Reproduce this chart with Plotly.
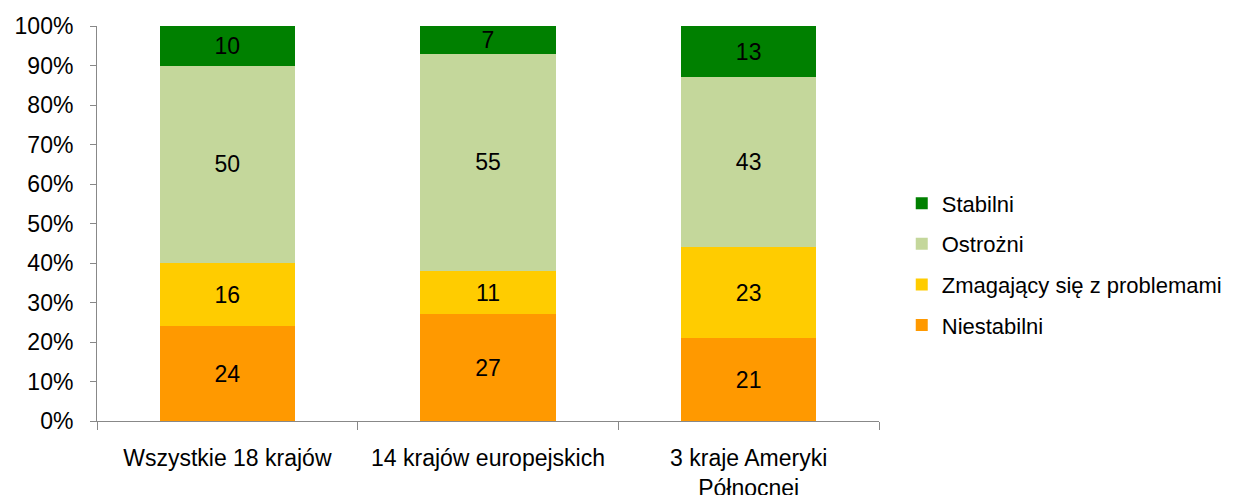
import plotly.graph_objects as go

categories = ["Wszystkie 18 krajów", "14 krajów europejskich", "3 kraje Ameryki<br>Północnej"]
niestabilni = [24, 27, 21]
zmagajacy = [16, 11, 23]
ostrozni = [50, 55, 43]
stabilni = [10, 7, 13]
ytick_vals = list(range(0, 101, 10))
ytick_text = [f"{v}%" for v in ytick_vals]

series = [
    ("Niestabilni", niestabilni, "#FF9900"),
    ("Zmagający się z problemami", zmagajacy, "#FFCC00"),
    ("Ostrożni", ostrozni, "#C4D79B"),
    ("Stabilni", stabilni, "#008000"),
]

fig = go.Figure()
for i, (name, vals, color) in enumerate(series):
    fig.add_trace(go.Bar(
        x=categories, y=vals, name=name, legendgroup=name,
        legendrank=1000 - i,
        marker=dict(color=color, line=dict(width=0)),
        text=[str(v) for v in vals], textposition="inside",
        insidetextanchor="middle", textangle=0,
        textfont=dict(color="black", size=23, family="Liberation Sans, Arial"),
    ))

# page body has an 8px margin, so the figure is offset by (8, 8)
fig.update_layout(
    barmode="stack",
    bargap=0.48,
    width=1250, height=495,
    margin=dict(l=89, r=379, t=18, b=82, autoexpand=False),
    paper_bgcolor="white", plot_bgcolor="white",
    font=dict(family="Liberation Sans, Arial", size=23, color="black"),
    uniformtext=dict(minsize=23, mode="show"),
    legend=dict(
        traceorder="grouped", tracegroupgap=9,
        xref="container", yref="container",
        x=0.715, y=0.482, xanchor="left", yanchor="middle",
        font=dict(size=22), itemwidth=30,
    ),
    xaxis=dict(
        automargin=False,
        showline=True, linecolor="#888888", linewidth=1,
        ticks="outside", tickson="boundaries", ticklen=8, tickcolor="#888888",
        ticklabelstandoff=16,
        showgrid=False, tickfont=dict(size=23),
    ),
    yaxis=dict(
        automargin=False,
        range=[0, 100], showline=True, linecolor="#888888", linewidth=1,
        ticks="outside", ticklen=6, tickcolor="#888888",
        ticklabelstandoff=12,
        tickvals=ytick_vals, ticktext=ytick_text,
        showgrid=False, zeroline=False, tickfont=dict(size=23),
    ),
)

fig.write_html("out.html")
